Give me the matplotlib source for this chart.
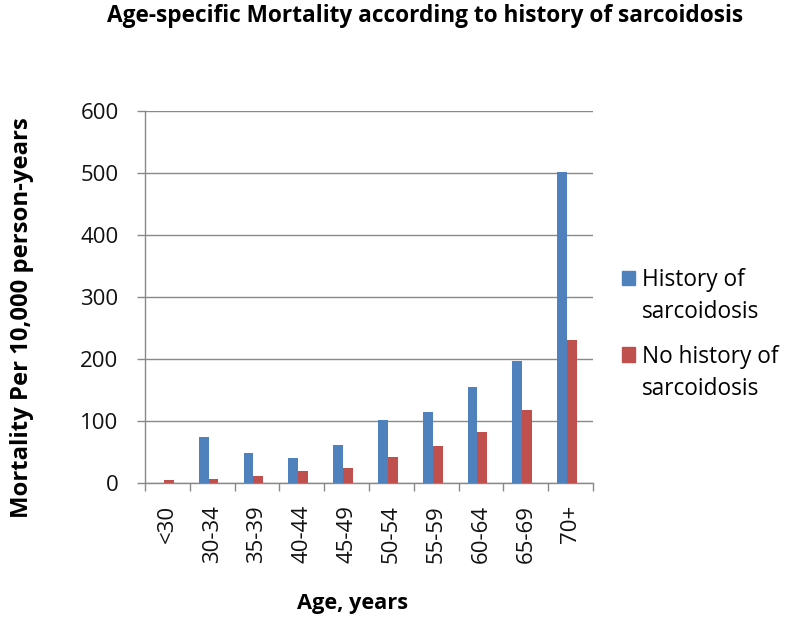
import matplotlib
matplotlib.use("Agg")
import matplotlib.pyplot as plt
import numpy as np
from matplotlib.patches import Patch

categories = ["<30", "30-34", "35-39", "40-44", "45-49", "50-54", "55-59", "60-64", "65-69", "70+"]
history = [0, 74, 48, 41, 61, 102, 115, 155, 196, 501]
no_history = [5, 7, 11, 19, 24, 42, 59, 82, 117, 230]
yticks = [0, 100, 200, 300, 400, 500, 600]
series_names = [["History of", "sarcoidosis"], ["No history of", "sarcoidosis"]]
colors = ["#4F81BD", "#C0504D"]

plt.rcParams['font.family'] = ['Open Sans', 'DejaVu Sans']

fig = plt.figure(figsize=(7.95, 6.23), dpi=100)
ax = fig.add_axes([0.1824, 0.2247, 0.5636, 0.5976])

x = np.arange(len(categories))
w = 0.22
grid_c = "#898989"
ax.bar(x - w / 2 - 0.08, history, width=w, color=colors[0], zorder=3)
ax.bar(x + w / 2 - 0.08, no_history, width=w, color=colors[1], zorder=3)

ax.set_xlim(-0.5, len(categories) - 0.5)
ax.set_ylim(0, 600)
ax.set_yticks(yticks)
ax.set_yticklabels([str(v) for v in yticks], fontsize=16, color="#111111")
ax.yaxis.grid(True, color=grid_c, linewidth=1, zorder=0)
ax.set_xticks(x)
ax.set_xticklabels(categories, rotation=90, fontsize=16, color="#111111")
ax.set_xticks(np.arange(-0.5, len(categories), 1), minor=True)
ax.tick_params(axis='x', which='major', length=0, pad=16)
ax.tick_params(axis='x', which='minor', length=6, color=grid_c, width=1)
ax.tick_params(axis='y', length=6, color=grid_c, width=1, pad=13)

for s in ["top", "right"]:
    ax.spines[s].set_visible(False)
for s in ["left", "bottom"]:
    ax.spines[s].set_color(grid_c)
    ax.spines[s].set_linewidth(1)

ax.set_xlabel("Age, years", fontsize=15.7, fontweight="bold")
ax.xaxis.set_label_coords(0.464, -0.323)
ax.xaxis.label.set_va("center")
ax.set_ylabel("Mortality Per 10,000 person-years", fontsize=17.2, fontweight="bold")
ax.yaxis.set_label_coords(-0.275, 0.444)
ax.yaxis.label.set_va("center")
fig.text(0.535, 0.974, "Age-specific Mortality according to history of sarcoidosis",
         ha="center", va="center", fontsize=16.3, fontweight="bold")

tops = [0.570, 0.447]
for name, c, top in zip(series_names, colors, tops):
    handles = [Patch(color=c), Patch(color="none")]
    fig.legend(handles, name, loc="upper left", bbox_to_anchor=(0.782, top), frameon=False,
               fontsize=16.3, handlelength=0.58, handleheight=0.58, handletextpad=0.3,
               labelspacing=0.37, borderaxespad=0, borderpad=0)

fig.savefig("out.png", dpi=100)
